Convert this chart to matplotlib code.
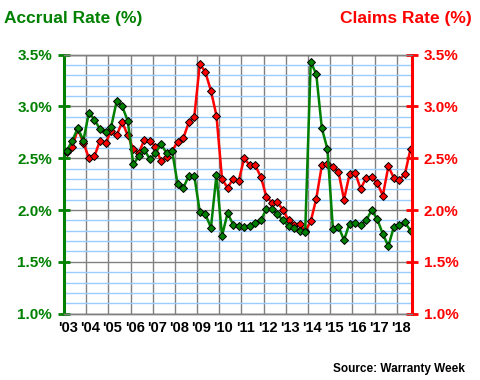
import matplotlib.pyplot as plt
import numpy as np
import pandas as pd
from matplotlib.transforms import ScaledTranslation

# quarterly data, 2003Q1 .. 2018Q3
quarters = pd.period_range('2003Q1', '2018Q3', freq='Q')

accrual = [2.57, 2.67, 2.79, 2.67, 2.94, 2.87, 2.78, 2.75, 2.80, 3.05, 3.00, 2.86,
           2.44, 2.52, 2.58, 2.49, 2.55, 2.635, 2.55, 2.57, 2.25, 2.21, 2.33, 2.33,
           1.98, 1.96, 1.83, 2.34, 1.75, 1.97, 1.86, 1.85, 1.84, 1.85, 1.875, 1.90,
           2.01, 2.01, 1.96, 1.90, 1.845, 1.83, 1.80, 1.79, 3.43, 3.31, 2.79, 2.59,
           1.82, 1.84, 1.71, 1.87, 1.875, 1.855, 1.90, 2.00, 1.91, 1.77, 1.65, 1.84,
           1.86, 1.88, 1.80]

claims = [2.56, 2.61, 2.78, 2.65, 2.50, 2.52, 2.67, 2.65, 2.76, 2.72, 2.85, 2.72,
          2.59, 2.55, 2.68, 2.67, 2.61, 2.47, 2.51, 2.57, 2.66, 2.69, 2.845, 2.90,
          3.41, 3.33, 3.15, 2.91, 2.30, 2.215, 2.30, 2.28, 2.50, 2.43, 2.43, 2.32,
          2.13, 2.07, 2.075, 2.00, 1.90, 1.86, 1.87, 1.80, 1.89, 2.11, 2.43, 2.44,
          2.415, 2.37, 2.10, 2.345, 2.36, 2.205, 2.31, 2.32, 2.26, 2.14, 2.42, 2.31,
          2.29, 2.35, 2.59]

years = list(range(2003, 2019))
year_labels = ["'%02d" % (y % 100) for y in years]

GREEN = '#008000'
RED = '#ff0000'
GRID_GREY = '#808080'
GRID_BLUE = '#99ccff'

plt.rcParams['font.family'] = ['Liberation Sans', 'DejaVu Sans']
plt.rcParams['font.weight'] = 'bold'

# x position: middle of each quarter
x = np.array([q.year + (q.quarter - 0.5) / 4 for q in quarters])

fig = plt.figure(figsize=(4.8, 3.8), dpi=100)
ax = fig.add_axes([0.1333, 0.1745, 0.725, 0.682])
ax2 = ax.twinx()

ymin, ymax = 1.0, 3.5
ax.set_xlim(2003, 2018.69)
ax.set_ylim(ymin, ymax)
ax2.set_ylim(ymin, ymax)

# grid
ax.set_yticks(np.arange(1.0, 3.51, 0.5))
ax.set_yticks(np.arange(1.0, 3.51, 0.1), minor=True)
ax.set_xticks(years)
ax.grid(True, which='minor', axis='y', color=GRID_BLUE, linewidth=1.0)
ax.grid(True, which='major', axis='y', color=GRID_GREY, linewidth=1.0)
ax.grid(True, which='major', axis='x', color=GRID_GREY, linewidth=1.0)
ax.set_axisbelow(True)

# lines (green drawn on top)
ax.plot(x, claims, color=RED, linewidth=1.8, marker='D', markersize=4.5,
        markerfacecolor=RED, markeredgecolor='black', markeredgewidth=0.7, zorder=3)
ax.plot(x, accrual, color=GREEN, linewidth=1.8, marker='D', markersize=4.5,
        markerfacecolor=GREEN, markeredgecolor='black', markeredgewidth=0.7, zorder=4)

# spines
for a in (ax, ax2):
    a.spines['top'].set_color(GRID_GREY)
    a.spines['bottom'].set_color(GRID_GREY)
    a.spines['top'].set_linewidth(1.0)
    a.spines['bottom'].set_linewidth(1.0)
ax.spines['left'].set_color(GREEN)
ax.spines['left'].set_linewidth(2.2)
ax.spines['right'].set_visible(False)
ax2.spines['left'].set_visible(False)
ax2.spines['right'].set_color(RED)
ax2.spines['right'].set_linewidth(2.2)

pct = lambda v: '%.1f%%' % v
ax.set_yticklabels([pct(v) for v in np.arange(1.0, 3.51, 0.5)])
ax2.set_yticks(np.arange(1.0, 3.51, 0.5))
ax2.set_yticklabels([pct(v) for v in np.arange(1.0, 3.51, 0.5)])

ax.tick_params(axis='y', which='major', direction='inout', length=9, width=2,
               color=GREEN, labelcolor=GREEN, labelsize=11, pad=4)
ax.tick_params(axis='y', which='minor', length=0)
ax2.tick_params(axis='y', which='major', direction='inout', length=9, width=2,
                color=RED, labelcolor=RED, labelsize=11, pad=4)
ax.tick_params(axis='x', length=0, labelsize=10.5, labelcolor='black', pad=5)
ax.set_xticklabels(year_labels)
for lab in ax.get_xticklabels():
    lab.set_transform(lab.get_transform() + ScaledTranslation(3 / 72, 0, fig.dpi_scale_trans))

# titles and source
fig.text(4 / 480, 1 - 18 / 380, 'Accrual Rate (%)', color=GREEN, fontsize=12.5,
         fontweight='bold', ha='left', va='center')
fig.text(472 / 480, 1 - 18 / 380, 'Claims Rate (%)', color=RED, fontsize=12.5,
         fontweight='bold', ha='right', va='center')
fig.text(465 / 480, 1 - 369 / 380, 'Source: Warranty Week', color='black', fontsize=8.5,
         fontweight='bold', ha='right', va='center')

fig.savefig('out.png', dpi=100)
